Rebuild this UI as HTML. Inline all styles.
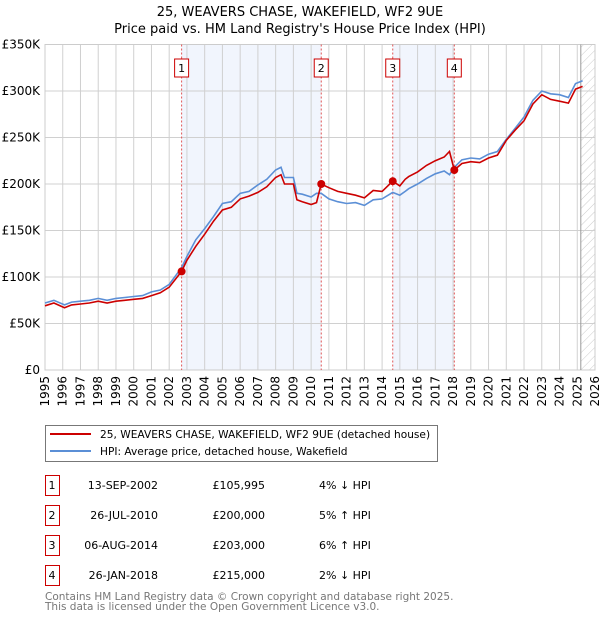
<!DOCTYPE html>
<html><head><meta charset="utf-8"><style>
body{margin:0;background:#fff;font-family:"Liberation Sans","DejaVu Sans",sans-serif;}
svg text{font-family:"DejaVu Sans","Liberation Sans",sans-serif;}
</style></head><body>
<svg id="chart" width="600" height="620" xmlns="http://www.w3.org/2000/svg">
<defs><pattern id="hatch" width="6" height="6" patternUnits="userSpaceOnUse" patternTransform="rotate(45)"><line x1="0" y1="0" x2="0" y2="6" stroke="#ccc" stroke-width="1"/></pattern></defs>
<text x="300" y="16" text-anchor="middle" font-size="13">25, WEAVERS CHASE, WAKEFIELD, WF2 9UE</text>
<text x="300" y="33" text-anchor="middle" font-size="13">Price paid vs. HM Land Registry's House Price Index (HPI)</text>
<g id="plot"></g>
<g>
<rect x="45.5" y="425.5" width="392" height="36" fill="#fff" stroke="#777"/>
<line x1="50" y1="434" x2="91" y2="434" stroke="#cc0000" stroke-width="2"/>
<text x="100" y="438" font-size="10.6">25, WEAVERS CHASE, WAKEFIELD, WF2 9UE (detached house)</text>
<line x1="50" y1="451" x2="91" y2="451" stroke="#5b8fd6" stroke-width="2"/>
<text x="100" y="455" font-size="10.6">HPI: Average price, detached house, Wakefield</text>
</g>
<g id="table"></g>
<text x="45" y="600" font-size="10.5" fill="#777">Contains HM Land Registry data © Crown copyright and database right 2025.</text>
<text x="45" y="610" font-size="10.5" fill="#777">This data is licensed under the Open Government Licence v3.0.</text>
</svg>
<script>
const hpiYears=[1995,1995.5,1996.1,1996.5,1997,1997.5,1998,1998.5,1999,1999.5,2000,2000.5,2001,2001.5,2002,2002.7,2003,2003.5,2004,2004.5,2005,2005.5,2006,2006.5,2007,2007.5,2008,2008.3,2008.5,2009,2009.2,2009.5,2010,2010.3,2010.57,2011,2011.5,2012,2012.5,2013,2013.5,2014,2014.6,2015,2015.3,2015.5,2016,2016.5,2017,2017.5,2017.8,2018.07,2018.5,2019,2019.5,2020,2020.5,2021,2021.5,2022,2022.5,2023,2023.5,2024,2024.5,2024.9,2025.3];
const hpiValues=[72,75,70,73,74,75,77,75,77,78,79,80,84,86,92,110,122,140,152,165,179,181,190,192,199,205,215,218,207,207,190,189,186,190,190,184,181,179,180,177,183,184,191,188,192,195,200,206,211,214,210,218,226,228,227,232,235,248,260,272,290,300,297,296,293,308,311];
const propValues=[69,72,67,70,71,72,74,72,74,75,76,77,80,83,89,106,118,133,146,160,172,175,184,187,191,197,207,210,200,200,183,181,178,180,200,196,192,190,188,185,193,192,203,198,205,208,213,220,225,229,235,215,222,224,223,228,231,247,258,268,286,296,291,289,287,302,305];
const saleIds=["1","2","3","4"];
const saleYears=[2002.70,2010.57,2014.60,2018.07];
const salePrices=[105.995,200,203,215];
const saleDates=["13-SEP-2002","26-JUL-2010","06-AUG-2014","26-JAN-2018"];
const saleLabels=["£105,995","£200,000","£203,000","£215,000"];
const saleHpi=["4% ↓ HPI","5% ↑ HPI","6% ↑ HPI","2% ↓ HPI"];
const yTicks=[0,50,100,150,200,250,300,350];
const yTickLabels=["£0","£50K","£100K","£150K","£200K","£250K","£300K","£350K"];
const xTicks=[1995,1996,1997,1998,1999,2000,2001,2002,2003,2004,2005,2006,2007,2008,2009,2010,2011,2012,2013,2014,2015,2016,2017,2018,2019,2020,2021,2022,2023,2024,2025,2026];

const X0=45,X1=595,Y0=370,Y1=44.5;
const xs=y=>X0+(y-1995)/(2026-1995)*(X1-X0);
const ys=v=>Y0-v/350*(Y0-Y1);
const NS="http://www.w3.org/2000/svg";
const plot=document.getElementById('plot');
function mk(t,a,p){const e=document.createElementNS(NS,t);for(const k in a)e.setAttribute(k,a[k]);(p||plot).appendChild(e);return e;}
for(let i=0;i<saleYears.length;i+=2){
 const x2=i+1<saleYears.length?saleYears[i+1]:2025.3;
 const r=mk('rect',{x:xs(saleYears[i]),y:Y1,width:xs(x2)-xs(saleYears[i]),height:Y0-Y1,fill:'#eef3fc',opacity:0.8});
 
 
}
const hx=xs(2025.2);
const hr=mk('rect',{x:hx,y:Y1,width:X1-hx,height:Y0-Y1,fill:'url(#hatch)'});


xTicks.forEach((t,i)=>{
 const l=mk('line',{x1:xs(t),x2:xs(t),y1:Y1,y2:Y0,stroke:'#d0d0d0','stroke-width':1});
 
 
 const tx=mk('text',{x:0,y:0,'font-size':12,'text-anchor':'end',transform:`translate(${xs(t)+4},${Y0+6}) rotate(-90)`});
 tx.textContent=t;
 
 
});
yTicks.forEach((t,i)=>{
 const l=mk('line',{x1:X0,x2:X1,y1:ys(t),y2:ys(t),stroke:'#d0d0d0','stroke-width':1});
 
 
 const tx=mk('text',{x:X0-5,y:ys(t)+4,'font-size':12,'text-anchor':'end'});
 tx.textContent=yTickLabels[i];
 
 
});
mk('rect',{x:X0,y:Y1,width:X1-X0,height:Y0-Y1,fill:'none',stroke:'#ccc'});
mk('line',{x1:hx,x2:hx,y1:Y1,y2:Y0,stroke:'#999','stroke-width':1});
saleYears.forEach((y,i)=>{
 const l=mk('line',{x1:xs(y),x2:xs(y),y1:Y1,y2:Y0,stroke:'#e05555','stroke-width':1,'stroke-dasharray':'2,2'});
 
 
 const b=mk('rect',{x:xs(y)-7,y:59,width:14,height:18,fill:'#fff',stroke:'#cc0000'});
 
 
 const t=mk('text',{x:xs(y),y:72,'font-size':11,'text-anchor':'middle'});
 t.textContent=saleIds[i];
 
 
});
function path(vals,color,name){
 const d=hpiYears.map((y,i)=>(i?'L':'M')+xs(y).toFixed(1)+','+ys(vals[i]).toFixed(1)).join('');
 const p=mk('path',{d:d,fill:'none',stroke:color,'stroke-width':1.6});
 
 
}
path(hpiValues,'#5b8fd6','hpi-line');
path(propValues,'#cc0000','property-line');
saleYears.forEach((y,i)=>{
 const c=mk('circle',{cx:xs(y),cy:ys(salePrices[i]),r:4,fill:'#cc0000'});
 
 
});
const tb=document.getElementById('table');
saleIds.forEach((id,i)=>{
 const cy=485+i*30;
 const b=mk('rect',{x:45.5,y:cy-9.5,width:14,height:20,fill:'#fff',stroke:'#cc0000'},tb);
 
 
 const cells=[[52,id,'middle'],[158,saleDates[i],'end'],[265,saleLabels[i],'end'],[319,saleHpi[i],'start']];
 cells.forEach(c=>{
  const t=mk('text',{x:c[0],y:cy+4,'font-size':11,'text-anchor':c[2]},tb);
  t.textContent=c[1];
  
  
 });
});
</script>
</body></html>
